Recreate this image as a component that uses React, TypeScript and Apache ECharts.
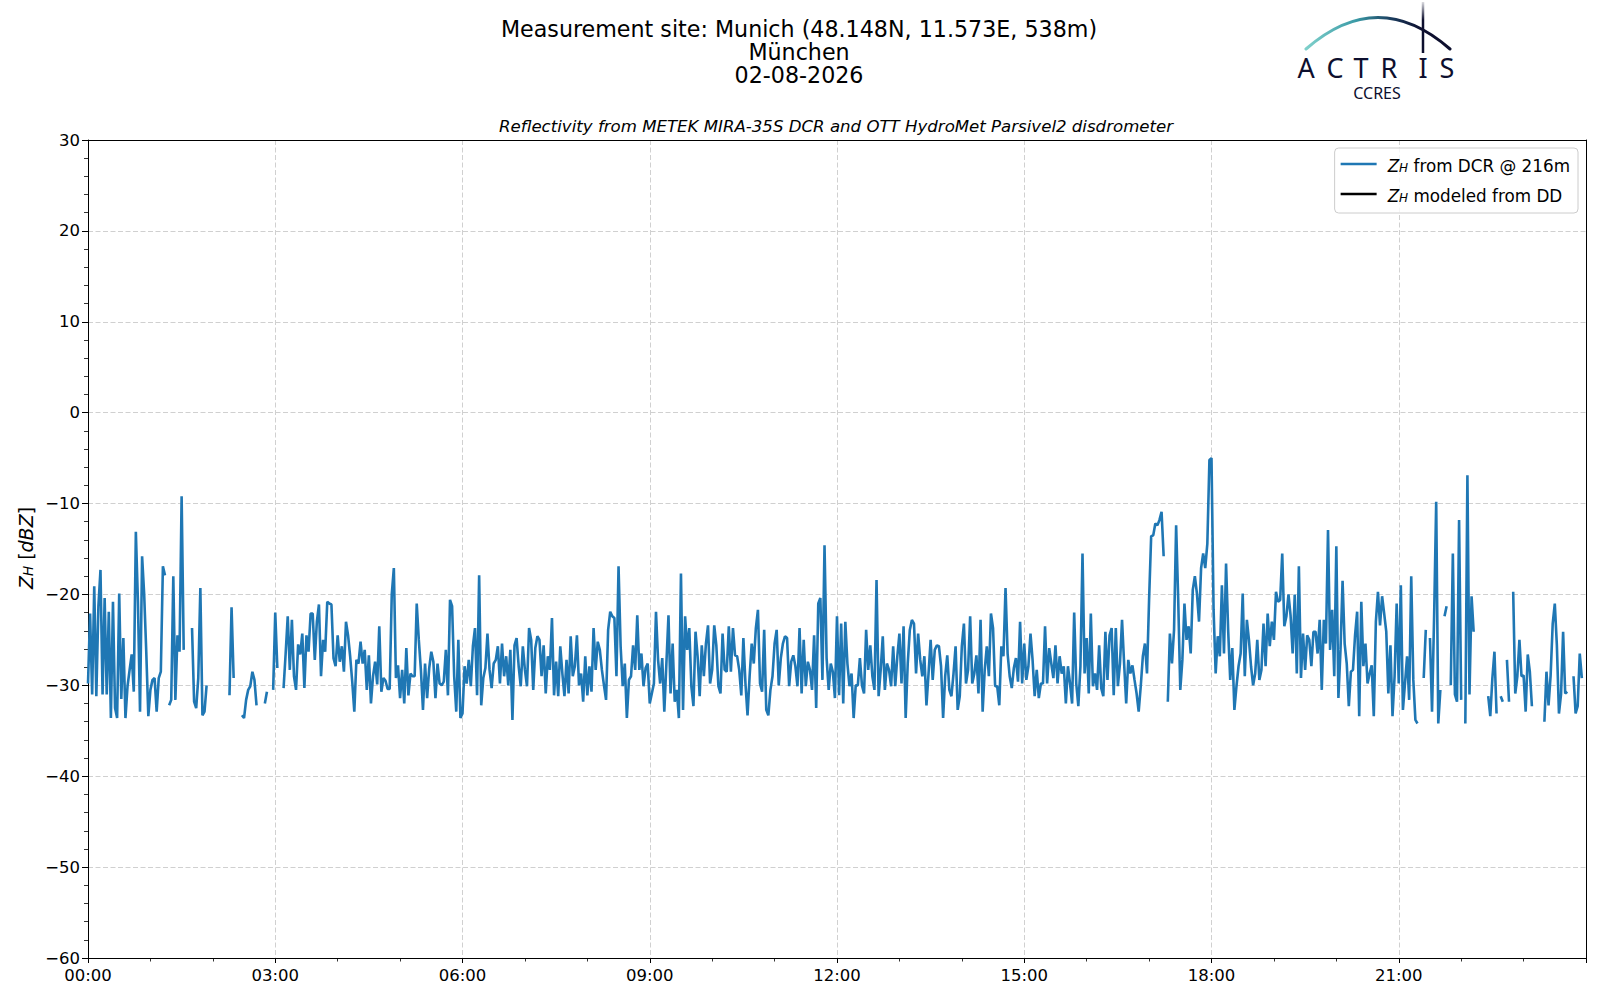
import React, { useEffect, useRef } from "react";
import * as echarts from "echarts";

// DCR reflectivity at 216 m, one value every 2 minutes from 00:00 (null = no data)
const STEP_MIN = 2;
const zhDcr: (number | null)[] = [
  -29.8, -22.1, -31.0, -19.1, -31.2, -21.3, -17.3, -31.0, -20.4, -31.0,
  -21.9, -33.6, -20.8, -32.5, -33.6, -19.9, -31.5, -24.8, -33.6, -30.1,
  -28.3, -26.6, -30.7, -13.1, -20.8, -32.9, -15.8, -20.0, -26.3, -33.4,
  -30.5, -29.4, -29.2, -32.9, -29.2, -28.5, -16.9, -17.9, null, -32.2,
  -31.6, -18.0, -31.6, -24.5, -26.3, -9.2, -26.1, null, null, null,
  -23.7, -31.8, -32.5, -29.2, -19.3, -33.3, -32.9, -30.0, null, null,
  null, null, null, null, null, null, null, null, -31.1, -21.4,
  -29.2, null, null, null, -33.3, -33.6, -31.6, -30.5, -30.1, -28.5,
  -29.4, -32.2, null, null, null, -32.0, -30.7, null, null, -30.5,
  -22.0, -28.1, null, null, -30.3, -26.5, -22.4, -28.3, -22.8, -29.0,
  -30.5, -25.5, -26.6, -24.3, -30.3, -24.5, -26.3, -22.1, -22.1, -27.2,
  -23.0, -21.1, -29.0, -25.0, -26.3, -20.8, -21.0, -21.1, -27.0, -27.9,
  -24.5, -27.4, -25.7, -28.5, -23.0, -24.5, -26.8, -29.6, -32.9, -27.2,
  -27.6, -25.2, -27.6, -26.1, -30.5, -26.7, -32.0, -29.0, -27.4, -29.9,
  -23.5, -30.7, -29.2, -29.5, -30.4, -30.4, -20.0, -17.1, -29.2, -27.8,
  -31.4, -28.3, -32.0, -25.9, -31.1, -28.7, -29.0, -29.0, -21.0, -25.0,
  -28.3, -32.7, -27.6, -31.4, -28.1, -26.3, -27.4, -31.4, -27.6, -29.8,
  -30.0, -29.6, -26.1, -31.1, -20.6, -21.3, -29.0, -32.9, -25.0, -33.6,
  -33.1, -27.9, -29.8, -27.2, -30.1, -25.7, -23.7, -31.1, -17.9, -32.2,
  -29.2, -28.1, -24.3, -28.3, -30.3, -27.6, -27.2, -25.7, -29.8, -25.4,
  -29.0, -26.8, -30.0, -26.1, -33.8, -25.6, -24.8, -27.9, -30.1, -25.7,
  -28.3, -30.1, -23.7, -25.0, -30.5, -25.9, -24.6, -25.0, -29.0, -25.6,
  -30.9, -26.8, -28.3, -22.6, -31.1, -27.4, -31.2, -25.7, -28.7, -31.2,
  -27.2, -30.9, -24.6, -29.0, -27.9, -24.5, -30.0, -28.7, -31.8, -26.8,
  -31.1, -27.9, -30.7, -23.7, -28.3, -25.2, -26.1, -28.3, -30.0, -31.6,
  -23.9, -21.9, -22.4, -22.6, -29.0, -16.9, -25.7, -30.1, -27.6, -33.6,
  -29.4, -29.0, -25.6, -28.3, -22.3, -28.3, -26.5, -30.1, -28.1, -27.6,
  -32.0, -30.9, -29.8, -21.9, -27.2, -29.8, -27.0, -32.9, -27.6, -22.3,
  -30.9, -25.4, -31.8, -30.5, -33.6, -17.7, -32.7, -22.4, -26.1, -23.7,
  -30.1, -32.3, -24.1, -26.8, -31.2, -25.6, -29.0, -25.4, -23.4, -29.8,
  -28.3, -23.4, -25.6, -30.1, -30.9, -24.3, -28.3, -28.5, -23.5, -28.5,
  -23.7, -26.7, -26.8, -28.3, -31.1, -24.8, -29.8, -33.3, -29.0, -25.4,
  -27.6, -23.7, -21.7, -29.8, -30.7, -23.9, -32.7, -33.3, -30.5, -29.0,
  -25.4, -23.9, -30.0, -27.0, -25.4, -24.6, -24.8, -30.1, -27.4, -26.7,
  -27.9, -30.1, -23.7, -30.9, -25.0, -30.1, -27.4, -28.3, -30.5, -24.5,
  -32.5, -21.0, -20.4, -29.4, -14.6, -27.0, -30.5, -27.6, -28.5, -31.4,
  -22.4, -31.1, -23.2, -32.0, -23.0, -27.6, -30.1, -28.7, -33.6, -30.0,
  -30.0, -27.0, -30.0, -30.9, -23.9, -28.3, -25.6, -29.0, -30.5, -18.4,
  -31.2, -28.3, -24.6, -30.5, -27.6, -28.3, -30.1, -25.7, -30.1, -26.8,
  -24.3, -29.8, -23.5, -33.6, -27.6, -23.9, -22.8, -23.2, -28.7, -24.3,
  -27.2, -29.0, -26.8, -32.2, -28.7, -25.0, -29.4, -26.1, -25.6, -25.7,
  -27.9, -33.6, -29.0, -26.7, -30.5, -31.2, -28.7, -25.7, -32.7, -31.2,
  -25.7, -23.2, -29.8, -28.3, -22.4, -29.8, -28.7, -26.7, -30.9, -22.8,
  -32.9, -28.3, -25.7, -29.0, -22.1, -23.7, -30.1, -30.1, -32.2, -25.7,
  -26.8, -19.3, -26.5, -29.0, -30.3, -28.1, -27.0, -29.6, -23.0, -29.8,
  -25.4, -29.4, -27.9, -24.3, -27.2, -31.2, -28.3, -31.4, -29.8, -29.8,
  -23.5, -29.8, -25.9, -27.6, -29.2, -25.6, -29.8, -26.8, -28.7, -27.9,
  -32.0, -27.9, -29.8, -32.0, -22.0, -29.8, -32.3, -27.9, -15.5, -28.7,
  -24.8, -30.9, -22.1, -30.1, -28.7, -30.5, -25.6, -30.3, -31.2, -24.1,
  -29.4, -24.5, -23.7, -31.1, -23.7, -30.1, -27.6, -22.8, -27.6, -32.0,
  -27.2, -28.7, -27.8, -29.4, -30.9, -32.9, -30.1, -26.8, -25.4, -28.7,
  -20.6, -13.6, -13.5, -12.2, -12.4, -11.8, -10.9, -15.8, null, -31.8,
  -24.3, -27.6, -23.9, -12.4, -20.6, -30.5, -27.2, -21.0, -25.0, -23.5,
  -26.5, -19.5, -18.0, -19.9, -23.0, -17.1, -15.5, -17.1, -14.4, -5.2,
  -5.0, -21.7, -28.7, -24.6, -26.8, -19.0, -26.5, -16.6, -23.9, -29.4,
  -25.9, -32.7, -30.1, -27.9, -26.5, -19.9, -29.0, -22.8, -25.0, -27.9,
  -30.0, -28.7, -25.0, -29.4, -28.3, -23.2, -27.9, -22.1, -25.7, -23.0,
  -25.0, -19.7, -20.8, -20.6, -15.5, -23.5, -22.4, -20.0, -22.3, -26.5,
  -20.0, -28.7, -16.9, -29.2, -24.3, -28.3, -24.5, -25.0, -27.9, -24.1,
  -24.1, -26.5, -22.8, -30.5, -22.8, -25.4, -12.9, -26.1, -21.7, -29.0,
  -14.7, -31.4, -26.1, -18.5, -25.4, -27.6, -32.3, -28.5, -28.3, -24.5,
  -21.9, -33.4, -20.8, -27.9, -25.4, -29.8, -28.7, -27.8, -33.4, -23.0,
  -19.7, -23.4, -20.2, -22.1, -24.1, -30.9, -25.6, -33.4, -29.0, -21.0,
  -29.8, -19.0, -32.7, -29.8, -26.8, -31.6, -18.0, -29.4, -33.8, -34.2,
  null, null, -29.2, -23.9, null, -24.8, -32.9, -22.4, -9.8, -34.2,
  -30.5, null, -22.4, -21.3, null, -30.0, -15.5, -31.0, -31.8, -11.8,
  -31.6, null, -34.2, -6.9, -31.0, -20.2, -24.1, null, null, null,
  null, null, null, -31.2, -33.4, -29.2, -26.3, -33.1, null, -31.2,
  -31.8, null, -27.2, -31.8, null, -19.7, -30.9, -29.0, -25.0, -29.0,
  -28.9, -32.9, -26.6, -28.5, -32.3, null, null, null, null, null,
  -34.0, -28.5, -32.2, -28.9, -23.2, -21.0, -25.6, -33.1, -31.0, -24.1,
  -30.9, -30.7, null, null, -29.0, -33.1, -32.3, -26.5, -29.2, null,
];

// Modeled reflectivity from the disdrometer: no data on this day
const zhDd: (number | null)[] = [];

const seriesNames = ["Z_H from DCR @ 216m", "Z_H modeled from DD"];
const hourLabels = ["00:00", "03:00", "06:00", "09:00", "12:00", "15:00", "18:00", "21:00"];
const titleLines = ["Measurement site: Munich (48.148N, 11.573E, 538m)", "München", "02-08-2026"];
const subTitle = "Reflectivity from METEK MIRA-35S DCR and OTT HydroMet Parsivel2 disdrometer";
const logoLetters = ["A", "C", "T", "R", "I", "S"];
const logoLetterX = [1306, 1335, 1361, 1389, 1423, 1447];

const FONT = "DejaVu Sans";
const NAVY = "#0d0f2e";

export default function App() {
  const ref = useRef<HTMLDivElement>(null);

  useEffect(() => {
    if (!ref.current) return;
    const chart = echarts.init(ref.current, null, { renderer: "svg" });

    const dcrData = zhDcr.map((v, i) => [i * STEP_MIN, v]);
    const ddData = zhDd.map((v, i) => [i * STEP_MIN, v]);

    const LF = 16.8;
    const richLegend = {
      i: { fontStyle: "italic", fontSize: LF, fontFamily: FONT, color: "#000", lineHeight: 20, verticalAlign: "bottom" },
      s: { fontStyle: "italic", fontSize: 12, fontFamily: FONT, color: "#000", lineHeight: 14, verticalAlign: "bottom" },
      n: { fontSize: LF, fontFamily: FONT, color: "#000", lineHeight: 20, verticalAlign: "bottom" },
    };

    const frameAxis = {
      show: true,
      axisLine: { show: true, onZero: false, lineStyle: { color: "#000", width: 1 } },
      axisTick: { show: false },
      axisLabel: { show: false },
      splitLine: { show: false },
      minorTick: { show: false },
    };

    const option: any = {
      animation: false,
      backgroundColor: "#ffffff",
      title: [
        {
          text: titleLines.join("\n"),
          left: 794,
          top: 12,
          textAlign: "center",
          padding: 5,
          textStyle: { fontSize: 22.2, fontWeight: "normal", fontFamily: FONT, color: "#000", lineHeight: 23.3 },
        },
        {
          text: subTitle,
          left: 831,
          top: 112,
          textAlign: "center",
          padding: 5,
          textStyle: { fontSize: 16.6, fontStyle: "italic", fontWeight: "normal", fontFamily: FONT, color: "#000", lineHeight: 18 },
        },
      ],
      legend: {
        orient: "vertical",
        right: 22,
        top: 148,
        padding: [6, 8, 9, 6],
        itemGap: 10,
        itemWidth: 36,
        itemHeight: 2.6,
        icon: "rect",
        selectedMode: false,
        backgroundColor: "rgba(255,255,255,0.8)",
        borderColor: "#cccccc",
        borderWidth: 1,
        borderRadius: 4,
        data: seriesNames,
        formatter: (name: string) => {
          const rest = name.replace("Z_H", "");
          return "{i|Z}{s|H}{n|" + rest + "}";
        },
        textStyle: { fontSize: LF, fontFamily: FONT, color: "#000", padding: [0, 0, 0, 6], lineHeight: 20, rich: richLegend },
      },
      grid: {
        left: 88,
        right: 14,
        top: 140,
        bottom: 42,
        show: false,
      },
      xAxis: [
        {
          type: "value",
          min: 0,
          max: 1440,
          interval: 180,
          axisLine: { show: true, onZero: false, lineStyle: { color: "#000", width: 1 } },
          axisTick: { show: true, length: 5, lineStyle: { color: "#000", width: 1 } },
          minorTick: { show: true, splitNumber: 3, length: 3.5, lineStyle: { color: "#000", width: 0.8 } },
          splitLine: { show: true, lineStyle: { color: "#d0d0d0", type: [5, 2.5], width: 1 } },
          axisLabel: {
            color: "#000",
            fontSize: 16.5,
            fontFamily: FONT,
            margin: 9,
            showMaxLabel: false,
            formatter: (v: number) => hourLabels[Math.round(v / 180)] ?? "",
          },
        },
        { ...frameAxis, type: "value", position: "top", min: 0, max: 1440, interval: 180 },
      ],
      yAxis: [
        {
          type: "value",
          min: -60,
          max: 30,
          interval: 10,
          axisLine: { show: true, onZero: false, lineStyle: { color: "#000", width: 1 } },
          axisTick: { show: true, length: 6, lineStyle: { color: "#000", width: 1 } },
          minorTick: { show: true, splitNumber: 5, length: 4, lineStyle: { color: "#000", width: 0.8 } },
          splitLine: { show: true, lineStyle: { color: "#d0d0d0", type: [5, 2.5], width: 1 } },
          axisLabel: {
            color: "#000",
            fontSize: 16.5,
            fontFamily: FONT,
            margin: 8,
            formatter: (v: number) => (v < 0 ? "\u2212" + Math.abs(v) : String(v)),
          },
        },
        { ...frameAxis, type: "value", position: "right", min: -60, max: 30, interval: 10 },
      ],
      series: [
        {
          name: seriesNames[0],
          type: "line",
          data: dcrData,
          xAxisIndex: 0,
          yAxisIndex: 0,
          color: "#1f77b4",
          showSymbol: false,
          symbol: "none",
          connectNulls: false,
          lineStyle: { color: "#1f77b4", width: 2.6 },
          itemStyle: { color: "#1f77b4" },
          silent: true,
          z: 3,
        },
        {
          name: seriesNames[1],
          type: "line",
          data: ddData,
          xAxisIndex: 0,
          yAxisIndex: 0,
          color: "#000000",
          showSymbol: false,
          symbol: "none",
          lineStyle: { color: "#000000", width: 2.6 },
          itemStyle: { color: "#000000" },
          silent: true,
          z: 4,
        },
      ],
      graphic: [
        {
          type: "text",
          x: 23,
          y: 548,
          rotation: Math.PI / 2,
          silent: true,
          style: {
            text: "{i|Z}{s|H}{n| [}{i|dBZ}{n|]}",
            align: "center",
            verticalAlign: "middle",
            fill: "#000",
            fontSize: 19,
            fontFamily: FONT,
            rich: {
              i: { fontStyle: "italic", fontSize: 19, fontFamily: FONT, fill: "#000", lineHeight: 24, verticalAlign: "bottom" },
              s: { fontStyle: "italic", fontSize: 13.5, fontFamily: FONT, fill: "#000", lineHeight: 16, verticalAlign: "bottom" },
              n: { fontSize: 19, fontFamily: FONT, fill: "#000", lineHeight: 24, verticalAlign: "bottom" },
            },
          },
        },
        {
          type: "group",
          silent: true,
          children: [
            {
              type: "bezierCurve",
              shape: { x1: 1306, y1: 49, x2: 1450, y2: 49, cpx1: 1378, cpy1: -14 },
              style: {
                fill: "none",
                lineWidth: 3,
                lineCap: "round",
                stroke: new echarts.graphic.LinearGradient(1306, 0, 1450, 0, [
                  { offset: 0, color: "#7fd0cb" },
                  { offset: 0.35, color: "#3a9aa6" },
                  { offset: 0.6, color: "#1a3a5c" },
                  { offset: 0.8, color: NAVY },
                  { offset: 1, color: NAVY },
                ], true),
              },
            },
            {
              type: "line",
              shape: { x1: 1423, y1: 2, x2: 1423, y2: 53 },
              style: {
                lineWidth: 2.5,
                stroke: new echarts.graphic.LinearGradient(0, 2, 0, 53, [
                  { offset: 0, color: "rgba(13,15,46,0.15)" },
                  { offset: 0.35, color: NAVY },
                  { offset: 1, color: NAVY },
                ], true),
              },
            },
            ...logoLetters.map((ch, k) => ({
              type: "text",
              x: logoLetterX[k],
              y: 67,
              style: {
                text: ch,
                align: "center",
                verticalAlign: "middle",
                fontSize: 27,
                fontFamily: "Noto Sans",
                fill: NAVY,
              },
            })),
            {
              type: "text",
              x: 1377,
              y: 93,
              style: {
                text: "CCRES",
                align: "center",
                verticalAlign: "middle",
                fontSize: 16,
                fontFamily: "Noto Sans",
                fill: NAVY,
              },
            },
          ],
        },
      ],
    };

    chart.setOption(option);
    return () => chart.dispose();
  }, []);

  return (
    <div
      ref={ref}
      style={{ position: "fixed", left: 0, top: 0, width: 1600, height: 1000, background: "#ffffff" }}
    />
  );
}
